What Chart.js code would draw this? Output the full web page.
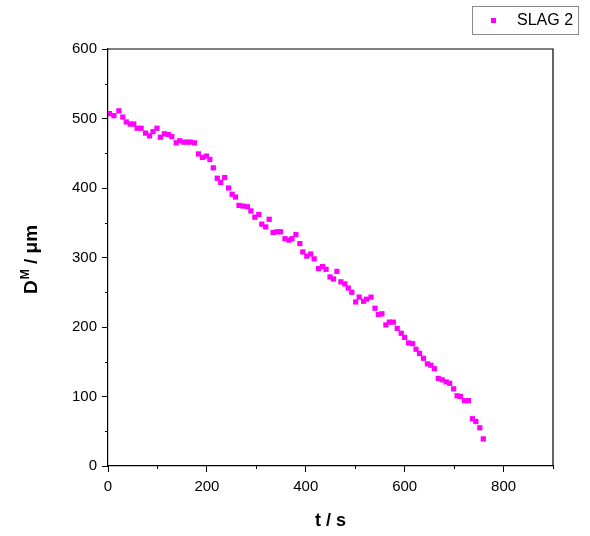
<!DOCTYPE html>
<html><head><meta charset="utf-8">
<style>html,body{margin:0;padding:0;background:#fff}</style>
<script src="https://cdn.jsdelivr.net/npm/chart.js@4"></script>
</head><body>
<canvas id="c" width="590" height="536"></canvas>
<script>
const seriesLabel = 'SLAG 2';
const timeS = [3,12,22,30,37,45,52,59,67,76,84,91,99,106,114,122,129,138,145,153,160,167,175,183,191,199,206,213,221,228,236,244,251,258,265,273,282,289,297,305,311,319,326,334,342,349,358,366,372,380,388,394,402,410,417,426,434,441,449,456,463,471,479,486,493,501,508,517,523,532,540,547,554,562,569,577,585,593,600,608,616,623,630,638,646,653,660,668,676,684,691,699,706,713,721,729,737,744,752,759];
const diameterUm = [507,504,511,502,495,492,492,486,486,479,475,481,486,473,478,477,474,465,468,466,466,466,465,449,444,446,441,429,414,408,415,400,391,387,375,374,373,367,358,362,348,344,355,336,337,337,327,325,327,333,320,308,302,305,298,284,287,283,272,269,280,265,262,256,250,236,243,237,240,243,227,218,219,203,207,207,198,191,185,177,176,168,162,155,147,145,140,126,124,121,119,111,101,100,94,94,68,64,55,39];
const xMinorTicks = [100,300,500,700,900];
const yMinorTicks = [50,150,250,350,450,550];

const points = timeS.map((t,i)=>({x:t,y:diameterUm[i]}));
const magenta = '#ff00ff';
const FONT = '"Liberation Sans", Arial, sans-serif';

const decor = {
  id:'decor',
  afterDraw(chart){
    const ctx = chart.ctx, a = chart.chartArea;
    const xs = chart.scales.x, ys = chart.scales.y;
    ctx.save();
    ctx.strokeStyle = '#000'; ctx.lineWidth = 1.2;
    ctx.beginPath();
    ctx.moveTo(a.left, a.top); ctx.lineTo(a.right, a.top); ctx.lineTo(a.right, a.bottom);
    ctx.stroke();
    ctx.lineWidth = 1;
    ctx.beginPath();
    yMinorTicks.forEach(v=>{const p=Math.round(ys.getPixelForValue(v))+0.5; ctx.moveTo(a.left-3,p); ctx.lineTo(a.left,p);});
    xMinorTicks.forEach(v=>{const p=Math.round(xs.getPixelForValue(v))+0.5; ctx.moveTo(p,a.bottom); ctx.lineTo(p,a.bottom+3);});
    ctx.stroke();
    // x title
    ctx.fillStyle = '#000';
    ctx.font = 'bold 18px ' + FONT;
    ctx.textAlign = 'center'; ctx.textBaseline = 'middle';
    ctx.fillText('t / s', (a.left+a.right)/2, 521);
    // y title
    ctx.save();
    ctx.translate(30, (a.top+a.bottom)/2 + 2);
    ctx.rotate(-Math.PI/2);
    const big = 'bold 19px ' + FONT, small = 'bold 12px ' + FONT;
    ctx.font = big; const wD = ctx.measureText('D').width; const wR = ctx.measureText(' / \u03bcm').width;
    ctx.font = small; const wM = ctx.measureText('M').width + 1;
    let x0 = -(wD+wM+wR)/2;
    ctx.textAlign = 'left'; ctx.textBaseline = 'alphabetic';
    ctx.font = big; ctx.fillText('D', x0, 7);
    ctx.font = small; ctx.fillText('M', x0+wD+1, -1);
    ctx.font = big; ctx.fillText(' / \u03bcm', x0+wD+wM, 7);
    ctx.restore();
    // legend
    ctx.strokeStyle = '#8a8a8a'; ctx.lineWidth = 1;
    ctx.strokeRect(472.5, 6.5, 106, 28);
    ctx.fillStyle = chart.data.datasets[0].backgroundColor;
    ctx.fillRect(491, 18, 5, 5);
    ctx.fillStyle = '#000';
    ctx.font = '16px ' + FONT; ctx.textAlign='left'; ctx.textBaseline='middle';
    ctx.fillText(chart.data.datasets[0].label, 517, 21);
    ctx.restore();
  }
};

new Chart(document.getElementById('c'), {
  type:'scatter',
  data:{datasets:[{label:seriesLabel, data:points, backgroundColor:magenta, borderColor:magenta, borderWidth:0, pointStyle:'rect', pointRadius:3.7, pointHoverRadius:3.7}]},
  options:{
    responsive:false, animation:false, devicePixelRatio:1,
    layout:{padding:{left:0, top:49, right:37, bottom:0}},
    plugins:{legend:{display:false}, tooltip:{enabled:false}},
    scales:{
      x:{type:'linear', min:0, max:900,
        afterFit(s){s.height=70;},
        border:{display:true, color:'#000', width:1.2},
        grid:{drawOnChartArea:false, drawTicks:true, tickLength:6, color:'#000', tickColor:'#000'},
        ticks:{stepSize:200, includeBounds:false, color:'#000', padding:6, font:{family:FONT, size:15}, maxRotation:0}
      },
      y:{type:'linear', min:0, max:600,
        afterFit(s){s.width=108;},
        border:{display:true, color:'#000', width:1.2},
        grid:{drawOnChartArea:false, drawTicks:true, tickLength:6, color:'#000', tickColor:'#000'},
        ticks:{stepSize:100, color:'#000', padding:5, font:{family:FONT, size:15}}
      }
    }
  },
  plugins:[decor]
});
</script>
</body></html>
